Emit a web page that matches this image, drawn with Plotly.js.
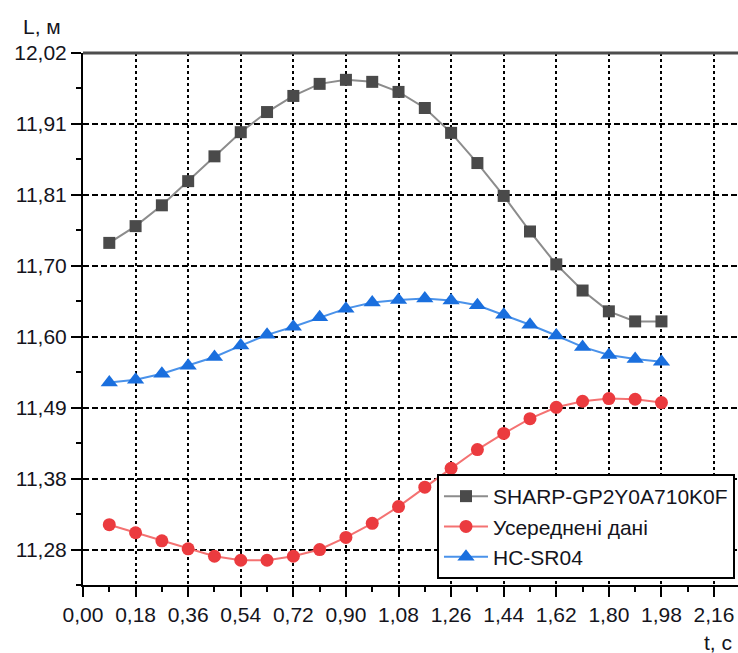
<!DOCTYPE html>
<html>
<head>
<meta charset="utf-8">
<script src="https://cdn.plot.ly/plotly-3.0.1.min.js"></script>
<style>
html,body{margin:0;padding:0;background:#fff;}
#chart{width:738px;height:653px;}
</style>
</head>
<body>
<div id="chart"></div>
<script>
// time, s
const tValues = [0.09, 0.18, 0.27, 0.36, 0.45, 0.54, 0.63, 0.72, 0.81, 0.90, 0.99,
                 1.08, 1.17, 1.26, 1.35, 1.44, 1.53, 1.62, 1.71, 1.80, 1.89, 1.98];
// L, m
const sharpValues = [11.737, 11.762, 11.793, 11.829, 11.866, 11.902, 11.932, 11.956, 11.974, 11.980, 11.977,
                     11.962, 11.938, 11.901, 11.856, 11.807, 11.754, 11.705, 11.666, 11.635, 11.620, 11.620];
const averagedValues = [11.317, 11.305, 11.293, 11.281, 11.270, 11.264, 11.264, 11.270, 11.280, 11.298, 11.319,
                        11.344, 11.373, 11.401, 11.429, 11.453, 11.475, 11.492, 11.501, 11.505, 11.504, 11.499];
const hcsrValues = [11.529, 11.533, 11.542, 11.554, 11.567, 11.584, 11.600, 11.612, 11.626, 11.639, 11.648,
                    11.652, 11.654, 11.651, 11.644, 11.630, 11.615, 11.599, 11.582, 11.570, 11.564, 11.560];

const seriesNames = ["SHARP-GP2Y0A710K0F", "Усереднені дані", "HC-SR04"];

const xTickVals = [0, 0.18, 0.36, 0.54, 0.72, 0.90, 1.08, 1.26, 1.44, 1.62, 1.80, 1.98, 2.16];
const xTickText = ["0,00", "0,18", "0,36", "0,54", "0,72", "0,90", "1,08", "1,26", "1,44", "1,62", "1,80", "1,98", "2,16"];
const yTickText = ["11,28", "11,38", "11,49", "11,60", "11,70", "11,81", "11,91", "12,02"];
const yStart = 11.28, yEnd = 12.02;
const yStep = (yEnd - yStart) / (yTickText.length - 1);
const yTickVals = yTickText.map((_, i) => yStart + i * yStep);

const font = "Arial, 'Liberation Sans', sans-serif";
const txtColor = "#14141c";

const traces = [
  {x: tValues, y: sharpValues, name: seriesNames[0], mode: "lines+markers",
   line: {color: "#8c8c8c", width: 2},
   marker: {symbol: "square", size: 12, color: "#4a4a4a"}},
  {x: tValues, y: averagedValues, name: seriesNames[1], mode: "lines+markers",
   line: {color: "#f47272", width: 2},
   marker: {symbol: "circle", size: 13, color: "#eb3b3f"}},
  {x: tValues, y: hcsrValues, name: seriesNames[2], mode: "lines+markers",
   line: {color: "#4a92ea", width: 2},
   marker: {symbol: "triangle-up", size: 15, color: "#1a6fde"}}
];

const layout = {
  width: 738, height: 653,
  margin: {l: 83, r: 0, t: 53, b: 68, pad: 0},
  paper_bgcolor: "#fff", plot_bgcolor: "#fff",
  font: {family: font, size: 21, color: txtColor},
  showlegend: true,
  legend: {
    x: 0.9954, xanchor: "right", y: 0.0113, yanchor: "bottom",
    bgcolor: "#fff", bordercolor: "#000", borderwidth: 2,
    font: {family: font, size: 21, color: txtColor},
    itemwidth: 44,
    tracegroupgap: 0
  },
  xaxis: {
    range: [0, 2.242], tickmode: "array", tickvals: xTickVals, ticktext: xTickText,
    showline: true, linecolor: "#000", linewidth: 2,
    ticks: "outside", ticklen: 10, tickwidth: 2, tickcolor: "#000",
    showgrid: true, gridcolor: "#000", gridwidth: 2, griddash: "3px,3px",
    minor: {tickmode: "linear", tick0: 0.09, dtick: 0.18, ticks: "outside", ticklen: 5, tickwidth: 2, tickcolor: "#000", showgrid: false},
    zeroline: false, tickfont: {family: font, size: 21, color: txtColor},
    fixedrange: true
  },
  yaxis: {
    range: [yStart - yStep / 2, yEnd], tickmode: "array", tickvals: yTickVals, ticktext: yTickText,
    showline: true, linecolor: "#000", linewidth: 2,
    ticks: "outside", ticklen: 10, tickwidth: 2, tickcolor: "#000",
    showgrid: true, gridcolor: "#000", gridwidth: 2, griddash: "6px,3px",
    minor: {tickmode: "linear", tick0: yStart - yStep / 2, dtick: yStep, ticks: "outside", ticklen: 5, tickwidth: 2, tickcolor: "#000", showgrid: false},
    zeroline: false, tickfont: {family: font, size: 21, color: txtColor},
    fixedrange: true
  },
  shapes: [
    {type: "line", xref: "paper", yref: "paper", x0: 0, x1: 1, y0: 1, y1: 1,
     line: {color: "#4d4d4d", width: 3}, layer: "above"}
  ],
  annotations: [
    {text: "L, м", xref: "paper", yref: "paper", x: -0.063, y: 1.05, xanchor: "center", yanchor: "middle",
     showarrow: false, font: {family: font, size: 21, color: txtColor}},
    {text: "t, с", xref: "paper", yref: "paper", x: 0.97, y: -0.108, xanchor: "center", yanchor: "middle",
     showarrow: false, font: {family: font, size: 21, color: txtColor}}
  ]
};

Plotly.newPlot("chart", traces, layout, {displayModeBar: false, staticPlot: true});
</script>
</body>
</html>
